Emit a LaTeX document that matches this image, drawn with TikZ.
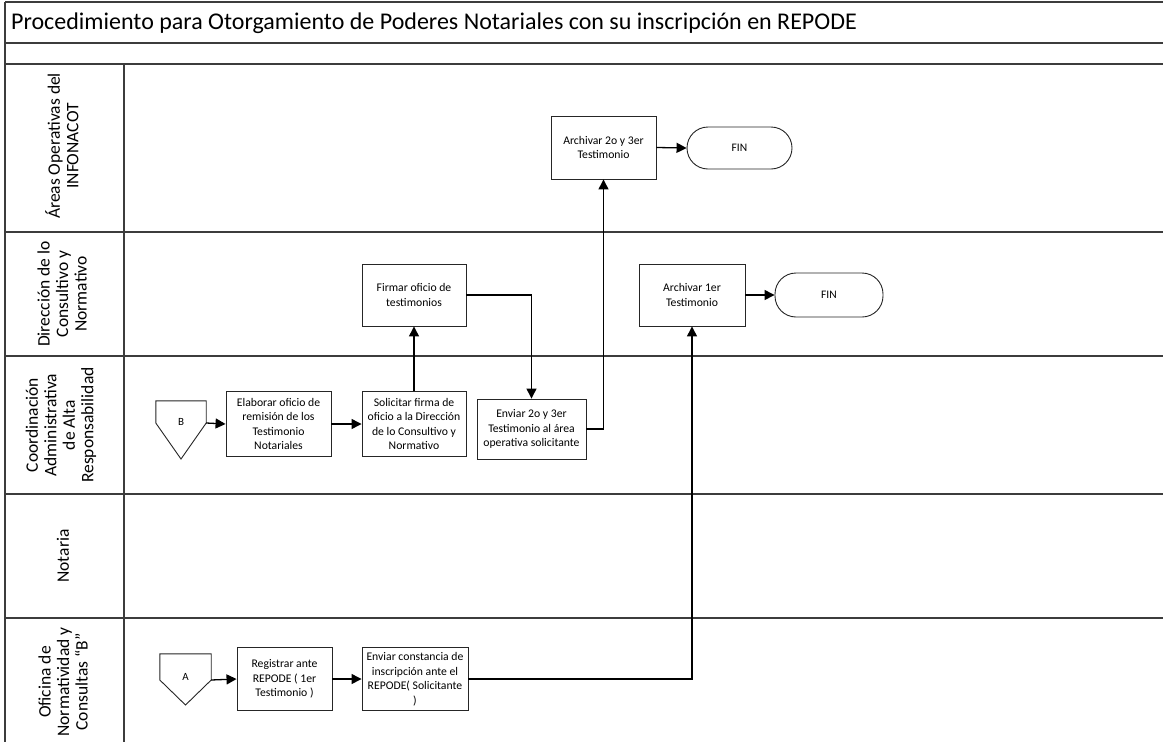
\documentclass[tikz,border=0pt]{standalone}
\usepackage{fontspec}
\setmainfont{Carlito}
\usetikzlibrary{arrows.meta,calc}
\definecolor{lanegray}{HTML}{3C3C3C}
\begin{document}
\begin{tikzpicture}[x=1pt,y=-1pt,
  lane/.style={draw=lanegray,line width=2pt},
  proc/.style={draw=black!85,line width=0.9pt,fill=white,align=center,font=\fontsize{11.7}{14.5}\selectfont,inner sep=1pt},
  term/.style={draw=black!85,line width=0.9pt,rounded corners=21pt,align=center,font=\fontsize{11.5}{14}\selectfont},
  offpage/.style={draw=none,minimum width=50pt,font=\fontsize{11}{13}\selectfont,inner sep=0pt},
  pent/.style={draw=black!85,line width=0.9pt},
  flow/.style={draw=black,line width=1.3pt,-{Triangle[length=10pt,width=10pt]}},
  lanelabel/.style={rotate=90,align=center,font=\fontsize{17.5}{18.5}\selectfont}
]
\useasboundingbox (0,0) rectangle (1163,742);
\fill[white] (0,0) rectangle (1163,742);
% frame and lanes
\draw[lane] (5,2) -- (1163,2);
\draw[lane] (5,43) -- (1163,43);
\draw[lane] (5,64) -- (1163,64);
\draw[lane] (5,2) -- (5,742);
\draw[lane] (124,64) -- (124,742);
\draw[lane] (5,232) -- (1163,232);
\draw[lane] (5,356) -- (1163,356);
\draw[lane] (5,494) -- (1163,494);
\draw[lane] (5,618) -- (1163,618);
% title
\node[anchor=west,font=\fontsize{24}{28}\selectfont,inner sep=0pt] (title) at (11,23) {Procedimiento para Otorgamiento de Poderes Notariales con su inscripción en REPODE};
% lane labels
\node[lanelabel] (l1) at (62,146) {Áreas Operativas del\\INFONACOT};
\node[lanelabel] (l2) at (62,294) {Dirección de lo\\Consultivo y\\Normativo};
\node[lanelabel] (l3) at (61,425) {Coordinación\\Administrativa\\de Alta\\Responsabilidad};
\node[lanelabel] (l4) at (63,556) {Notaria};
\node[lanelabel] (l5) at (63,682) {Oficina de\\Normatividad y\\Consultas “B”};
% off-page connectors
\node[offpage,minimum height=44pt] (B) at (181,423) {\raisebox{2pt}{B}};
\draw[pent] (B.north west) -- (B.north east) -- (B.east) -- ([yshift=-36pt]B.center) -- (B.west) -- cycle;
\node[offpage,minimum height=52pt,minimum width=51pt] (A) at (185.5,680) {\raisebox{6pt}{A}};
\draw[pent] (A.north west) -- (A.north east) -- (A.east) -- ([yshift=-25pt]A.center) -- (A.west) -- cycle;
% process boxes
\node[proc,minimum width=105pt,minimum height=65pt] (elab) at (278.5,424) {Elaborar oficio de\\remisión de los\\Testimonio\\Notariales};
\node[proc,minimum width=104pt,minimum height=65pt] (sol) at (414,424) {Solicitar firma de\\oficio a la Dirección\\de lo Consultivo y\\Normativo};
\node[proc,minimum width=109pt,minimum height=60pt] (env) at (531.5,429) {Enviar 2o y 3er\\Testimonio al área\\operativa solicitante};
\node[proc,minimum width=104pt,minimum height=62pt] (firm) at (414,295) {Firmar oficio de\\testimonios};
\node[proc,minimum width=106pt,minimum height=62pt] (arch1) at (692,295) {Archivar 1er\\Testimonio};
\node[term,minimum width=108pt,minimum height=44pt] (fin1) at (829,295) {FIN};
\node[proc,minimum width=105pt,minimum height=63pt] (arch2) at (603.5,147.5) {Archivar 2o y 3er\\Testimonio};
\node[term,minimum width=105pt,minimum height=42pt] (fin2) at (739.5,148) {FIN};
\node[proc,minimum width=95pt,minimum height=63pt] (reg) at (284.5,679) {Registrar ante\\REPODE ( 1er\\Testimonio )};
\node[proc,minimum width=106pt,minimum height=63pt] (envc) at (415,679) {Enviar constancia de\\inscripción ante el\\REPODE( Solicitante\\)};
% connectors
\draw[flow] (B.east) -- (elab.west);
\draw[flow] (elab.east) -- (sol.west);
\draw[flow] (sol.north) -- (firm.south);
\draw[flow] (firm.east) -| (env.north);
\draw[flow] (env.east) -| (arch2.south);
\draw[flow] (arch2.east) -- (fin2.west);
\draw[flow] (arch1.east) -- (fin1.west);
\draw[flow] (A.east) -- (reg.west);
\draw[flow] (reg.east) -- (envc.west);
\draw[flow] (envc.east) -| (arch1.south);
\end{tikzpicture}
\end{document}
